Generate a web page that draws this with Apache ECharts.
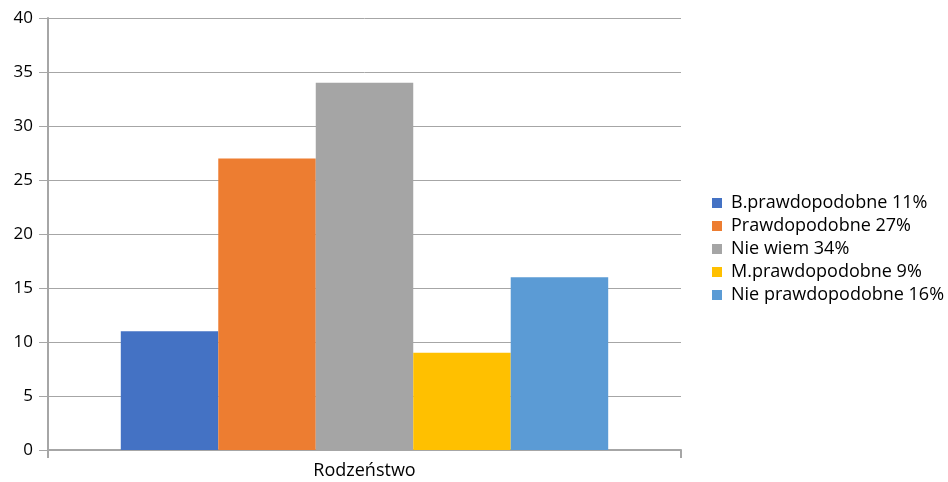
<!DOCTYPE html>
<html><head><meta charset="utf-8">
<script src="https://cdn.jsdelivr.net/npm/echarts@6/dist/echarts.min.js"></script>
<style>html,body{margin:0;padding:0;background:#fff}#c{width:948px;height:482px}</style>
</head><body><div id="c"></div>
<script>
const categories = ['Rodzeństwo'];
const seriesNames = ['B.prawdopodobne 11%','Prawdopodobne 27%','Nie wiem 34%','M.prawdopodobne 9%','Nie prawdopodobne 16%'];
const seriesValues = [[11],[27],[34],[9],[16]];
const seriesColors = ['#4472C4','#ED7D31','#A5A5A5','#FFC000','#5B9BD5'];
const yTicks = {min:0,max:40,interval:5};
const FONT = 'Open Sans';
const chart = echarts.init(document.getElementById('c'));
chart.setOption({
  animation:false,
  textStyle:{fontFamily:FONT},
  grid:{left:48,right:267,top:18,bottom:32,containLabel:false},
  legend:{orient:'vertical',left:707,top:189,itemWidth:10,itemHeight:10,itemGap:5,
    icon:'rect',textStyle:{fontFamily:FONT,fontSize:18,color:'#000',padding:[0,0,0,4]},
    data:seriesNames},
  xAxis:{type:'category',data:categories,
    axisLine:{lineStyle:{color:'#A6A6A6',width:2}},
    axisTick:{show:true,length:8,lineStyle:{color:'#A6A6A6',width:2}},
    axisLabel:{color:'#000',fontSize:18,fontFamily:FONT,margin:12}},
  yAxis:{type:'value',min:yTicks.min,max:yTicks.max,interval:yTicks.interval,
    axisLine:{show:true,lineStyle:{color:'#A6A6A6',width:2}},
    axisTick:{show:true,length:9,lineStyle:{color:'#A6A6A6'}},
    splitLine:{lineStyle:{color:'#A6A6A6',width:1}},
    axisLabel:{color:'#000',fontSize:17,fontFamily:FONT,margin:15}},
  series:seriesNames.map((n,i)=>({name:n,type:'bar',data:seriesValues[i],
    itemStyle:{color:seriesColors[i]},barGap:'0%',barCategoryGap:'23%'}))
});
</script></body></html>
